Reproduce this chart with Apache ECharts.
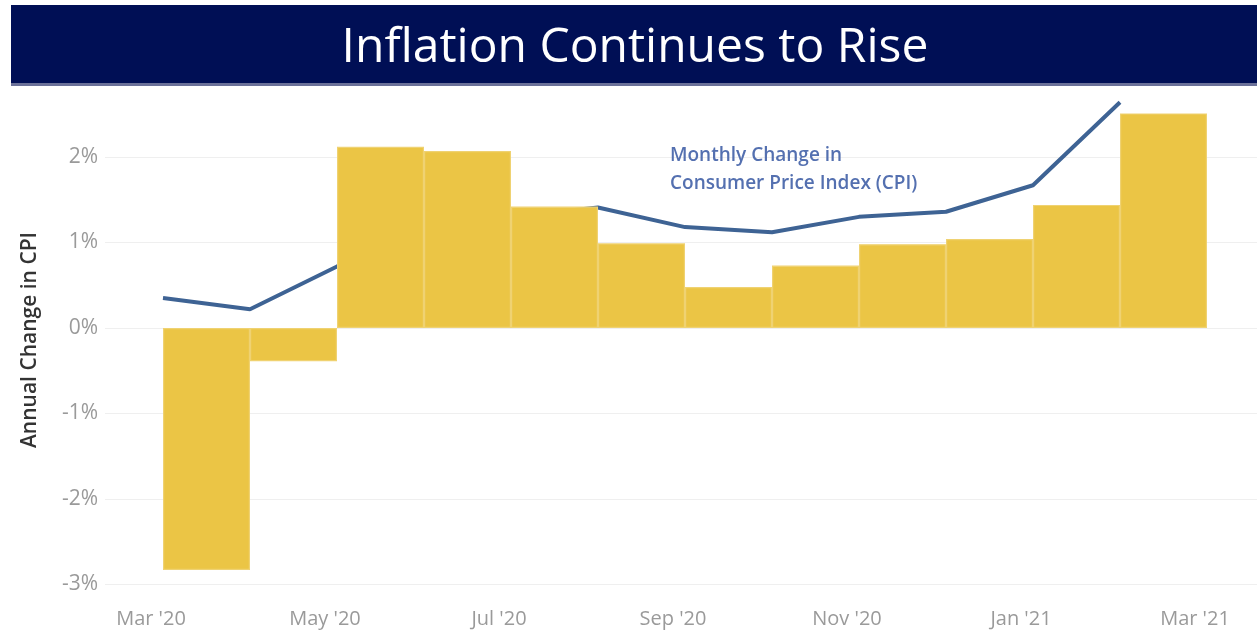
<!DOCTYPE html>
<html>
<head>
<meta charset="utf-8">
<script src="https://cdn.jsdelivr.net/npm/echarts@6/dist/echarts.min.js"></script>
<style>
html,body{margin:0;padding:0;background:#fff;}
#chart{width:1257px;height:634px;}
</style>
</head>
<body>
<div id="chart"></div>
<script>
// Data
const barMonths = ["Mar '20","Apr '20","May '20","Jun '20","Jul '20","Aug '20","Sep '20","Oct '20","Nov '20","Dec '20","Jan '21","Feb '21"];
const tickMonths = ["Mar '20","Apr '20","May '20","Jun '20","Jul '20","Aug '20","Sep '20","Oct '20","Nov '20","Dec '20","Jan '21","Feb '21","Mar '21"];
const annualChange = [-2.83, -0.39, 2.12, 2.07, 1.42, 0.99, 0.48, 0.73, 0.98, 1.04, 1.44, 2.51];
const monthlyChange = [0.35, 0.22, 0.72, 1.10, 1.30, 1.41, 1.18, 1.12, 1.30, 1.36, 1.67, 2.64, null];
const yTicks = [-3, -2, -1, 0, 1, 2];

const chart = echarts.init(document.getElementById('chart'), null, {renderer: 'canvas'});
const labelColor = '#9a9a9a';
chart.setOption({
  animation: false,
  backgroundColor: '#ffffff',
  grid: [
    {left: 105, right: 0, top: 71.5, bottom: 49.5},
    {left: 163, right: 50, top: 71.5, bottom: 49.5}
  ],
  xAxis: [
    {gridIndex: 0, type: 'category', data: [''], show: false},
    {gridIndex: 1, type: 'category', data: barMonths, show: false, boundaryGap: true, position: 'bottom'},
    {gridIndex: 1, type: 'category', data: tickMonths, boundaryGap: false, position: 'bottom',
      axisLine: {show: false}, axisTick: {show: false}, splitLine: {show: false},
      axisLabel: {interval: 1, margin: 25, color: labelColor, fontSize: 20,
        fontFamily: 'Open Sans', padding: [0, 24, 0, 0]}}
  ],
  yAxis: [
    {gridIndex: 0, type: 'value', min: -3, max: 3, interval: 1,
      axisLine: {show: false}, axisTick: {show: false},
      splitLine: {lineStyle: {color: '#efefef', width: 1}},
      axisLabel: {margin: 7, color: labelColor, fontSize: 21, fontFamily: 'Open Sans',
        formatter: v => yTicks.indexOf(v) >= 0 ? v + '%' : ''}},
    {gridIndex: 1, type: 'value', min: -3, max: 3, interval: 1, show: false, splitLine: {show: false}}
  ],
  series: [
    {type: 'line', xAxisIndex: 2, yAxisIndex: 1, data: monthlyChange, z: 1,
      symbol: 'none', lineStyle: {color: '#3e6394', width: 4}},
    {type: 'bar', xAxisIndex: 1, yAxisIndex: 1, data: annualChange, z: 3,
      barCategoryGap: '0%', barWidth: '100%',
      itemStyle: {color: '#ebc545', borderColor: '#efd272', borderWidth: 1.2}}
  ],
  graphic: [
    {type: 'rect', z: 100, shape: {x: 11, y: 5, width: 1246, height: 78}, style: {fill: '#000f55'}},
    {type: 'rect', z: 100, shape: {x: 11, y: 83, width: 1246, height: 3}, style: {fill: '#6b7199'}},
    {type: 'text', z: 101, x: 635, y: 48, style: {text: 'Inflation Continues to Rise', fill: '#ffffff',
      font: '48px "Open Sans"', textAlign: 'center', textVerticalAlign: 'middle'}},
    {type: 'text', z: 101, x: 30, y: 340, rotation: Math.PI / 2,
      style: {text: 'Annual Change in CPI', fill: '#333333', font: '600 21px "Open Sans"',
        textAlign: 'center', textVerticalAlign: 'middle'}},
    {type: 'text', z: 101, x: 670, y: 170, style: {text: 'Monthly Change in\nConsumer Price Index (CPI)',
      fill: '#5470b0', font: '600 19px "Open Sans"', lineHeight: 28, textVerticalAlign: 'middle'}}
  ]
});
</script>
</body>
</html>
